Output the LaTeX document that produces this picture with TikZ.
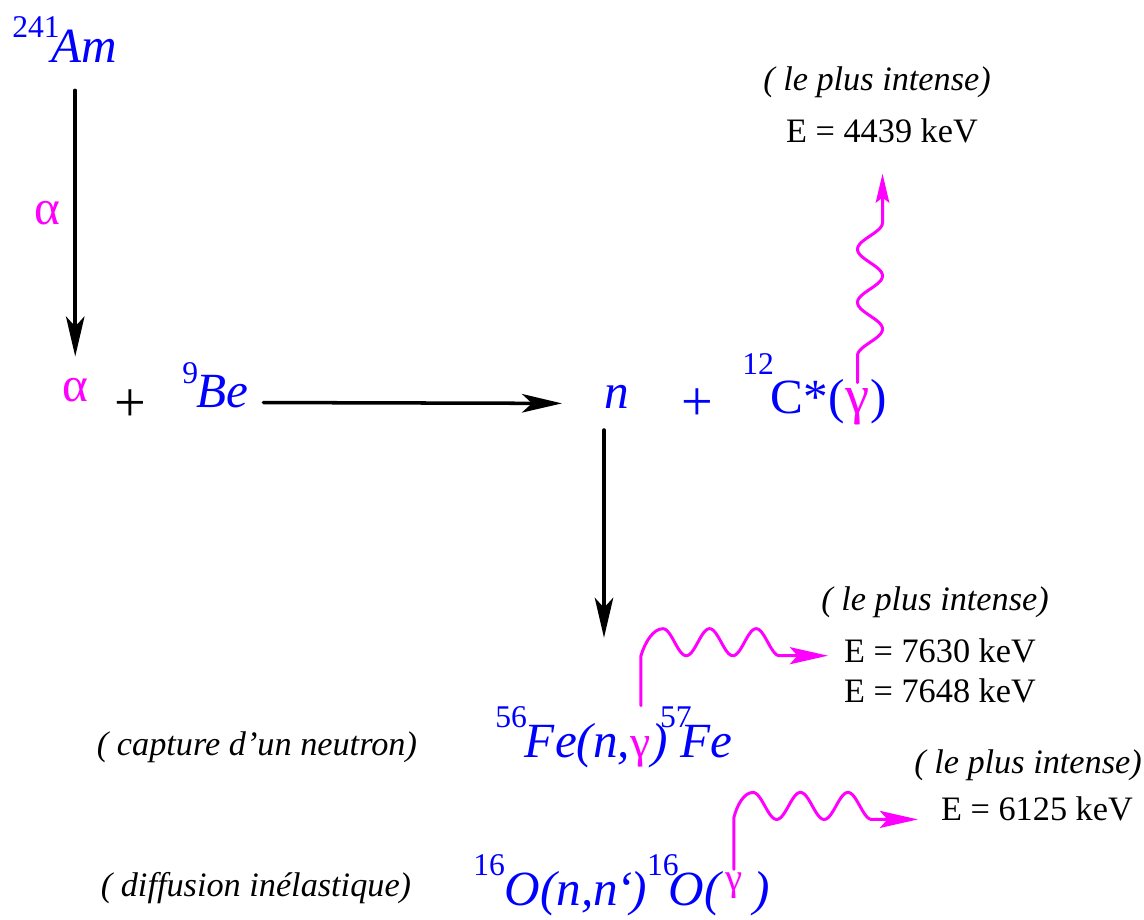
\documentclass[tikz,border=0pt]{standalone}
\usepackage{fontspec}
\setmainfont{Liberation Serif}[ItalicFont={Liberation Serif Italic}]
\usetikzlibrary{arrows.meta}

\newcommand\bigsz{\fontsize{28}{32}\selectfont}
\newcommand\supsz{\fontsize{18}{20}\selectfont}
\newcommand\txtsz{\fontsize{19.5}{23}\selectfont}
\newcommand\up[2][0.5cm]{\raisebox{#1}{\supsz\upshape #2}}

\definecolor{nucl}{RGB}{0,0,255}
\definecolor{rad}{RGB}{255,0,255}

\begin{document}
\begin{tikzpicture}[x=0.02cm, y=-0.02cm, line join=round, line cap=round,
  txt/.style={inner sep=0pt, font=\txtsz},
  note/.style={txt, font=\txtsz\itshape},
  enr/.style={txt, anchor=base},
  nuc/.style={inner sep=0pt, anchor=base west, text=nucl, font=\bigsz\itshape},
  ray/.style={inner sep=0pt, anchor=base west, text=rad, font=\bigsz},
  flow/.style={line width=2pt, -{Stealth[length=0.8cm, width=0.37cm, inset=0.2cm]}},
  wave/.style={rad, line width=1.7pt, -{Stealth[length=0.76cm, width=0.34cm, inset=0.15cm]}}]
  \useasboundingbox (0,0) rectangle (1144,920);

  % source
  \node[nuc] (am) at (12,62) {\up{241}\kern-0.16cm Am};
  \node[ray, anchor=center] (alab) at (47,213) {α};

  % reaction
  \node[ray] (alpha) at (62,401) {α};
  \node[txt, font=\fontsize{32}{34}\selectfont] (plus) at (130,406) {+};
  \node[nuc] (be) at (182,407) {\up[0.48cm]{9}\kern-0.04cm Be};
  \node[nuc] (n) at (604,408) {n};
  \node[txt, font=\fontsize{32}{34}\selectfont, text=nucl] (plusb) at (697,405) {+};
  \node[nuc, font=\bigsz] (c) at (742,413) {\up[0.78cm]{12}\kern-0.06cm C*(};
  \node[ray, font=\fontsize{31}{34}\selectfont] (cgam) at (c.base east) {γ};
  \node[nuc, font=\bigsz] (cend) at (cgam.base east) {)};

  % captures
  \node[nuc] (fe) at (495,757) {\up[0.6cm]{56}\kern-0.04cm Fe(n,};
  \node[ray, font=\fontsize{26}{28}\selectfont] (fegam) at (fe.base east) {γ};
  \node[nuc] (feend) at (fegam.base east) {)\kern-0.16cm\up[0.6cm]{57}\kern-0.22cm Fe};

  \node[nuc] (o) at (473,905) {\up[0.6cm]{16}O(n,n\kern-0.04cm‘\kern-0.04cm)\up[0.6cm]{16}\kern-0.2cm O(\kern0.08cm};
  \node[ray, font=\fontsize{22}{24}\selectfont] (ogam) at ([yshift=0.3cm]o.base east) {γ};
  \node[nuc] (oend) at ([xshift=0.2cm]ogam.base east |- o.base) {)};

  % labels
  \foreach \a/\b/\nm in {877/82/int1, 935/602/int2, 1028/765/int3}
    \node[note] (\nm) at (\a,\b) {( le plus intense)};
  \foreach \a/\b/\en/\nm in {882/142/4439/e1, 940/662/7630/e2, 940/702/7648/e3, 1037/820/6125/e4}
    \node[enr] (\nm) at (\a,\b) {E = \en\ keV};
  \node[note] (capt) at (257,747) {( capture d’un neutron)};
  \node[note] (diff) at (256,888) {( diffusion inélastique)};

  % arrows
  \draw[flow, shorten <=0.56cm, shorten >=0.42cm] (am.south -| alpha.north) -- (alpha.north);
  \draw[flow, shorten <=0.3cm, shorten >=0.84cm] ([yshift=0.09cm]be.base east) -- ([yshift=0.09cm]n.base west);
  \draw[flow, shorten <=0.44cm, shorten >=1.36cm] (n.base west) -- (n.base west |- fe.north);

  % gamma rays
  \coordinate (cw) at ([yshift=0.1cm]cgam.north);
  \coordinate (fw) at ([yshift=0.6cm]fegam.north);
  \coordinate (ow) at ([yshift=0.05cm]ogam.north);
  \draw[wave, -{Stealth[length=0.58cm, width=0.27cm, inset=0.1cm]}, shift={(cw)}] (0,0) -- (0,-27)
    -- plot[domain=-27:-160, samples=120] ({12.5-12.5*cos(6.767*(-27-\x))}, \x) -- (25,-209);
  \draw[wave, shift={(fw)}] (0,0) -- (0,-50) .. controls (4,-63) and (12,-77) .. (22,-77)
    -- plot[domain=22:138.5, samples=120] (\x, {-63.5-13.5*cos(7.725*(\x-22))}) -- (187,-50);
  \draw[wave, shift={(ow)}] (0,0) -- (0,-52) .. controls (3,-64) and (10,-77) .. (19,-77)
    -- plot[domain=19:137.75, samples=120] (\x, {-63.5-13.5*cos(7.579*(\x-19))}) -- (184,-50);
\end{tikzpicture}
\end{document}
